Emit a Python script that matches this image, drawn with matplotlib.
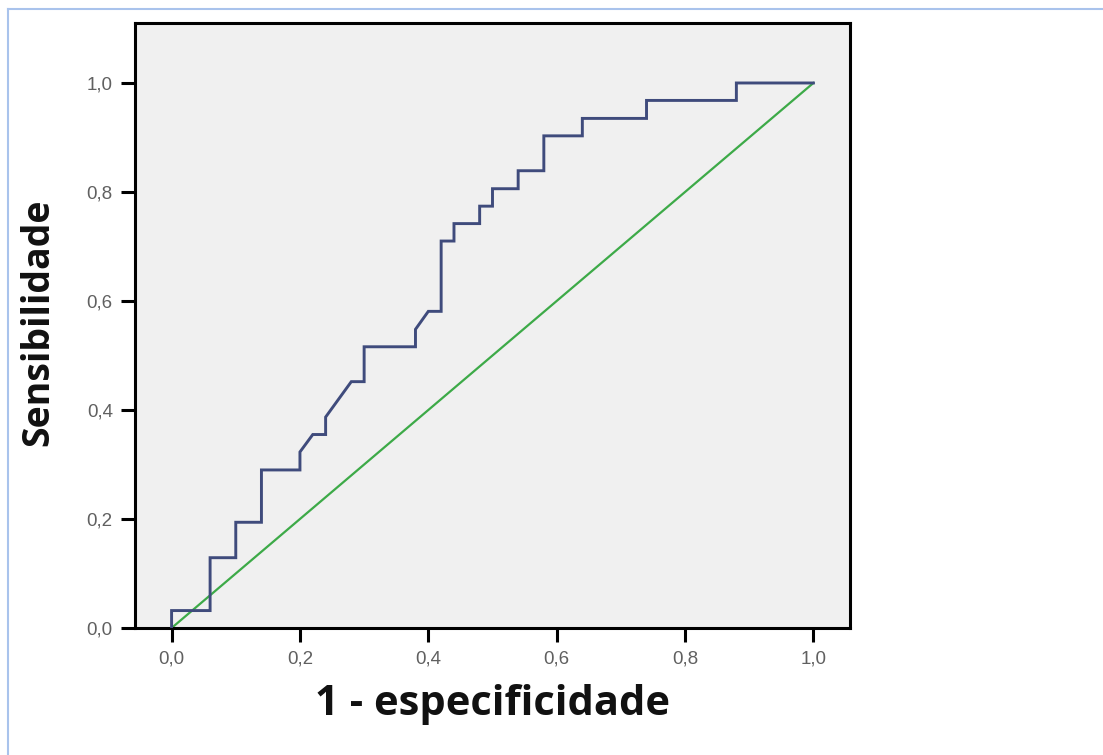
import matplotlib
matplotlib.use("Agg")
import matplotlib.pyplot as plt
from matplotlib.lines import Line2D

# ROC curve data (1 - specificity, sensitivity)
fpr = [0.00, 0.00, 0.06, 0.06, 0.10, 0.10, 0.14, 0.14, 0.20, 0.20, 0.22, 0.24, 0.24,
       0.28, 0.30, 0.30, 0.38, 0.38, 0.40, 0.42, 0.42, 0.44, 0.44, 0.48, 0.48, 0.50,
       0.50, 0.54, 0.54, 0.58, 0.58, 0.64, 0.64, 0.74, 0.74, 0.88, 0.88, 1.00]
tpr = [0.000, 0.032, 0.032, 0.129, 0.129, 0.194, 0.194, 0.290, 0.290, 0.323, 0.355,
       0.355, 0.387, 0.452, 0.452, 0.516, 0.516, 0.548, 0.581, 0.581, 0.710, 0.710,
       0.742, 0.742, 0.774, 0.774, 0.806, 0.806, 0.839, 0.839, 0.903, 0.903, 0.935,
       0.935, 0.968, 0.968, 1.000, 1.000]
ref_x = [0.0, 1.0]
ref_y = [0.0, 1.0]
ticks = [0.0, 0.2, 0.4, 0.6, 0.8, 1.0]
tick_labels = ["0,0", "0,2", "0,4", "0,6", "0,8", "1,0"]

fig = plt.figure(figsize=(11.03, 7.55), dpi=100)
fig.patch.set_facecolor("white")

# light blue frame lines (left and top)
fig.add_artist(Line2D([0.0073, 0.0073], [0.0, 0.988], transform=fig.transFigure,
                      color="#a9c3ec", lw=1.5))
fig.add_artist(Line2D([0.0073, 1.0], [0.988, 0.988], transform=fig.transFigure,
                      color="#a9c3ec", lw=1.5))

ax = fig.add_axes([0.1224, 0.1682, 0.6482, 0.8013])
ax.set_facecolor("#f0f0f0")

ax.plot(ref_x, ref_y, color="#3daa48", lw=1.6, zorder=2)
ax.plot(fpr, tpr, color="#3f4b7c", lw=2.1, zorder=3, solid_joinstyle="miter")

ax.set_xlim(-0.057, 1.057)
ax.set_ylim(0.0, 1.110)
ax.set_xticks(ticks)
ax.set_xticklabels(tick_labels)
ax.set_yticks(ticks)
ax.set_yticklabels(tick_labels)

for sp in ax.spines.values():
    sp.set_linewidth(2.2)
    sp.set_color("black")

ax.tick_params(axis="both", direction="out", length=10, width=2.2, color="black",
               labelsize=13.5, labelcolor="#606060", pad=6)
for lab in ax.get_xticklabels() + ax.get_yticklabels():
    lab.set_family("Liberation Sans")

ax.set_xlabel("1 - especificidade", fontsize=30, fontweight="bold",
              family=["Open Sans", "DejaVu Sans"], labelpad=12, color="#111111")
ax.set_ylabel("Sensibilidade", fontsize=27, fontweight="bold",
              family=["Open Sans", "DejaVu Sans"], color="#111111")
ax.yaxis.set_label_coords(-0.108, 0.505)

fig.savefig("out.png", dpi=100, facecolor="white")
